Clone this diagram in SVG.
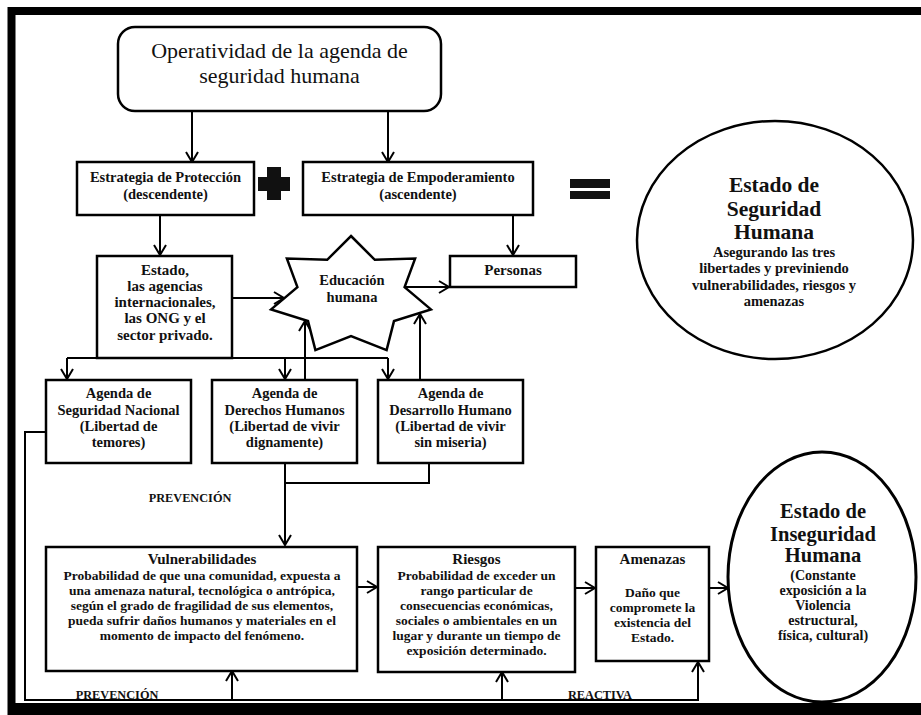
<svg xmlns="http://www.w3.org/2000/svg" width="921" height="715" viewBox="0 0 921 715">
<defs>
<style>
.bx{fill:#fff;stroke:#000;stroke-width:2.5}
.t{font-family:"Liberation Serif","Times New Roman",serif;font-weight:bold;fill:#111;text-anchor:middle}
.n{font-weight:normal}
.c{fill:none;stroke:#000;stroke-width:2}
</style>
<marker id="arr" viewBox="-12 -8 14 16" refX="0" refY="0" markerWidth="14" markerHeight="16" markerUnits="userSpaceOnUse" orient="auto">
<path d="M-10,-6 L0,0 L-10,6" fill="none" stroke="#000" stroke-width="2"/>
</marker>
</defs>
<rect width="921" height="715" fill="#fff"/>
<path d="M7.5,7 H921 V715 H7.5 Z M15.5,15 H921 V703 H15.5 Z" fill="#000" fill-rule="evenodd"/>

<g id="connectors">
<path class="c" d="M192,111 V162" marker-end="url(#arr)"/>
<path class="c" d="M388,111 V162" marker-end="url(#arr)"/>
<path class="c" d="M160,215 V255" marker-end="url(#arr)"/>
<path class="c" d="M513,215 V255" marker-end="url(#arr)"/>
<path class="c" d="M232,298 H284" marker-end="url(#arr)"/>
<path class="c" d="M405,287 H449" marker-end="url(#arr)"/>
<path class="c" d="M67,358 H388"/>
<path class="c" d="M67,358 V379" marker-end="url(#arr)"/>
<path class="c" d="M285,358 V379" marker-end="url(#arr)"/>
<path class="c" d="M388,358 V379" marker-end="url(#arr)"/>
<path class="c" d="M305,380 V321" marker-end="url(#arr)"/>
<path class="c" d="M420,380 V314" marker-end="url(#arr)"/>
<path class="c" d="M429,463 V483 H285"/>
<path class="c" d="M285,463 V545" marker-end="url(#arr)"/>
<path class="c" d="M357,587 H377" marker-end="url(#arr)"/>
<path class="c" d="M575,588 H595" marker-end="url(#arr)"/>
<path class="c" d="M709,588 H728" marker-end="url(#arr)"/>
<path class="c" d="M46,432 H25 V700 H698 V662" marker-end="url(#arr)"/>
<path class="c" d="M232,700 V671" marker-end="url(#arr)"/>
<path class="c" d="M502,700 V672" marker-end="url(#arr)"/>
</g>

<g id="operatividad">
<rect class="bx" x="118" y="27" width="323" height="84" rx="17"/>
<text class="t n" x="279.5" y="58" font-size="22">Operatividad de la agenda de</text>
<text class="t n" x="279.5" y="83" font-size="22">seguridad humana</text>
</g>

<g id="proteccion">
<rect class="bx" x="77" y="162" width="177" height="53"/>
<text class="t" x="165.5" y="182" font-size="14.5">Estrategia de Protección</text>
<text class="t" x="165.5" y="199" font-size="14.5">(descendente)</text>
</g>

<g id="plus">
<path d="M267,167 H281 V177 H290 V191 H281 V200 H267 V191 H258 V177 H267 Z" fill="#111"/>
</g>

<g id="empoderamiento">
<rect class="bx" x="303" y="162" width="230" height="53"/>
<text class="t" x="418" y="182" font-size="14.5">Estrategia de Empoderamiento</text>
<text class="t" x="418" y="199" font-size="14.5">(ascendente)</text>
</g>

<g id="igual">
<rect x="570" y="179" width="40" height="9" fill="#111"/>
<rect x="570" y="191" width="40" height="8" fill="#111"/>
</g>

<g id="estado-seguridad">
<ellipse cx="775" cy="240" rx="138" ry="119" fill="#fff" stroke="#000" stroke-width="2.5"/>
<text class="t" x="774" y="192" font-size="21.5">Estado de</text>
<text class="t" x="774" y="216" font-size="21.5">Seguridad</text>
<text class="t" x="774" y="239" font-size="21.5">Humana</text>
<text class="t" x="774" y="257" font-size="14.5">Asegurando las tres</text>
<text class="t" x="774" y="273" font-size="14.5">libertades y previniendo</text>
<text class="t" x="774" y="290" font-size="14.5">vulnerabilidades, riesgos y</text>
<text class="t" x="774" y="306" font-size="14.5">amenazas</text>
</g>

<g id="estado">
<rect class="bx" x="97" y="256" width="135" height="102"/>
<text class="t" x="165" y="275" font-size="15">Estado,</text>
<text class="t" x="165" y="291" font-size="15">las agencias</text>
<text class="t" x="165" y="307" font-size="15">internacionales,</text>
<text class="t" x="165" y="323" font-size="15">las ONG y el</text>
<text class="t" x="165" y="340" font-size="15">sector privado.</text>
</g>

<g id="educacion">
<polygon points="351,236 374.8,259.8 415.1,258.6 404.6,287.1 430.9,309.4 394,321.1 386.6,350.1 351,336.2 315.4,350.1 308,321.1 271.1,309.4 297.4,287.1 286.9,258.6 327.2,259.8" fill="#fff" stroke="#000" stroke-width="2.5" stroke-linejoin="miter"/>
<text class="t" x="352" y="285" font-size="14.5">Educación</text>
<text class="t" x="352" y="302" font-size="14.5">humana</text>
</g>

<g id="personas">
<rect class="bx" x="450" y="256" width="126" height="31"/>
<text class="t" x="513" y="275" font-size="15">Personas</text>
</g>

<g id="seguridad-nacional">
<rect class="bx" x="46" y="380" width="145" height="83"/>
<text class="t" x="118.5" y="398" font-size="14.5">Agenda de</text>
<text class="t" x="118.5" y="415" font-size="14.5">Seguridad Nacional</text>
<text class="t" x="118.5" y="431" font-size="14.5">(Libertad de</text>
<text class="t" x="118.5" y="447" font-size="14.5">temores)</text>
</g>

<g id="derechos-humanos">
<rect class="bx" x="212" y="380" width="145" height="83"/>
<text class="t" x="284.5" y="398" font-size="14.5">Agenda de</text>
<text class="t" x="284.5" y="415" font-size="14.5">Derechos Humanos</text>
<text class="t" x="284.5" y="431" font-size="14.5">(Libertad de vivir</text>
<text class="t" x="284.5" y="447" font-size="14.5">dignamente)</text>
</g>

<g id="desarrollo-humano">
<rect class="bx" x="378" y="380" width="145" height="83"/>
<text class="t" x="450.5" y="398" font-size="14.5">Agenda de</text>
<text class="t" x="450.5" y="415" font-size="14.5">Desarrollo Humano</text>
<text class="t" x="450.5" y="431" font-size="14.5">(Libertad de vivir</text>
<text class="t" x="450.5" y="447" font-size="14.5">sin miseria)</text>
</g>

<g id="labels">
<text class="t" x="190" y="502" font-size="12.3">PREVENCIÓN</text>
<text class="t" x="117" y="699" font-size="12.3">PREVENCIÓN</text>
<text class="t" x="600" y="699" font-size="12.3">REACTIVA</text>
</g>

<g id="vulnerabilidades">
<rect class="bx" x="46" y="547" width="311" height="124"/>
<text class="t" x="202" y="564" font-size="15">Vulnerabilidades</text>
<text class="t" x="202" y="580" font-size="13.5">Probabilidad de que una comunidad, expuesta a</text>
<text class="t" x="202" y="595" font-size="13.5">una amenaza natural, tecnológica o antrópica,</text>
<text class="t" x="202" y="610" font-size="13.5">según el grado de fragilidad de sus elementos,</text>
<text class="t" x="202" y="625" font-size="13.5">pueda sufrir daños humanos y materiales en el</text>
<text class="t" x="202" y="640" font-size="13.5">momento de impacto del fenómeno.</text>
</g>

<g id="riesgos">
<rect class="bx" x="378" y="547" width="197" height="125"/>
<text class="t" x="476.5" y="564" font-size="15">Riesgos</text>
<text class="t" x="476.5" y="580" font-size="13.5">Probabilidad de exceder un</text>
<text class="t" x="476.5" y="595" font-size="13.5">rango particular de</text>
<text class="t" x="476.5" y="610" font-size="13.5">consecuencias económicas,</text>
<text class="t" x="476.5" y="625" font-size="13.5">sociales o ambientales en un</text>
<text class="t" x="476.5" y="640" font-size="13.5">lugar y durante un tiempo de</text>
<text class="t" x="476.5" y="655" font-size="13.5">exposición determinado.</text>
</g>

<g id="amenazas">
<rect class="bx" x="596" y="547" width="113" height="114"/>
<text class="t" x="652.5" y="564" font-size="15">Amenazas</text>
<text class="t" x="652.5" y="597" font-size="13.5">Daño que</text>
<text class="t" x="652.5" y="612" font-size="13.5">compromete la</text>
<text class="t" x="652.5" y="627" font-size="13.5">existencia del</text>
<text class="t" x="652.5" y="642" font-size="13.5">Estado.</text>
</g>

<g id="estado-inseguridad">
<ellipse cx="822" cy="577" rx="94" ry="125" fill="#fff" stroke="#000" stroke-width="3"/>
<text class="t" x="823" y="518" font-size="20.5">Estado de</text>
<text class="t" x="823" y="541" font-size="20.5">Inseguridad</text>
<text class="t" x="823" y="562" font-size="20.5">Humana</text>
<text class="t" x="823" y="580" font-size="14">(Constante</text>
<text class="t" x="823" y="595" font-size="14">exposición a la</text>
<text class="t" x="823" y="610" font-size="14">Violencia</text>
<text class="t" x="823" y="625" font-size="14">estructural,</text>
<text class="t" x="823" y="640" font-size="14">física, cultural)</text>
</g>
</svg>
